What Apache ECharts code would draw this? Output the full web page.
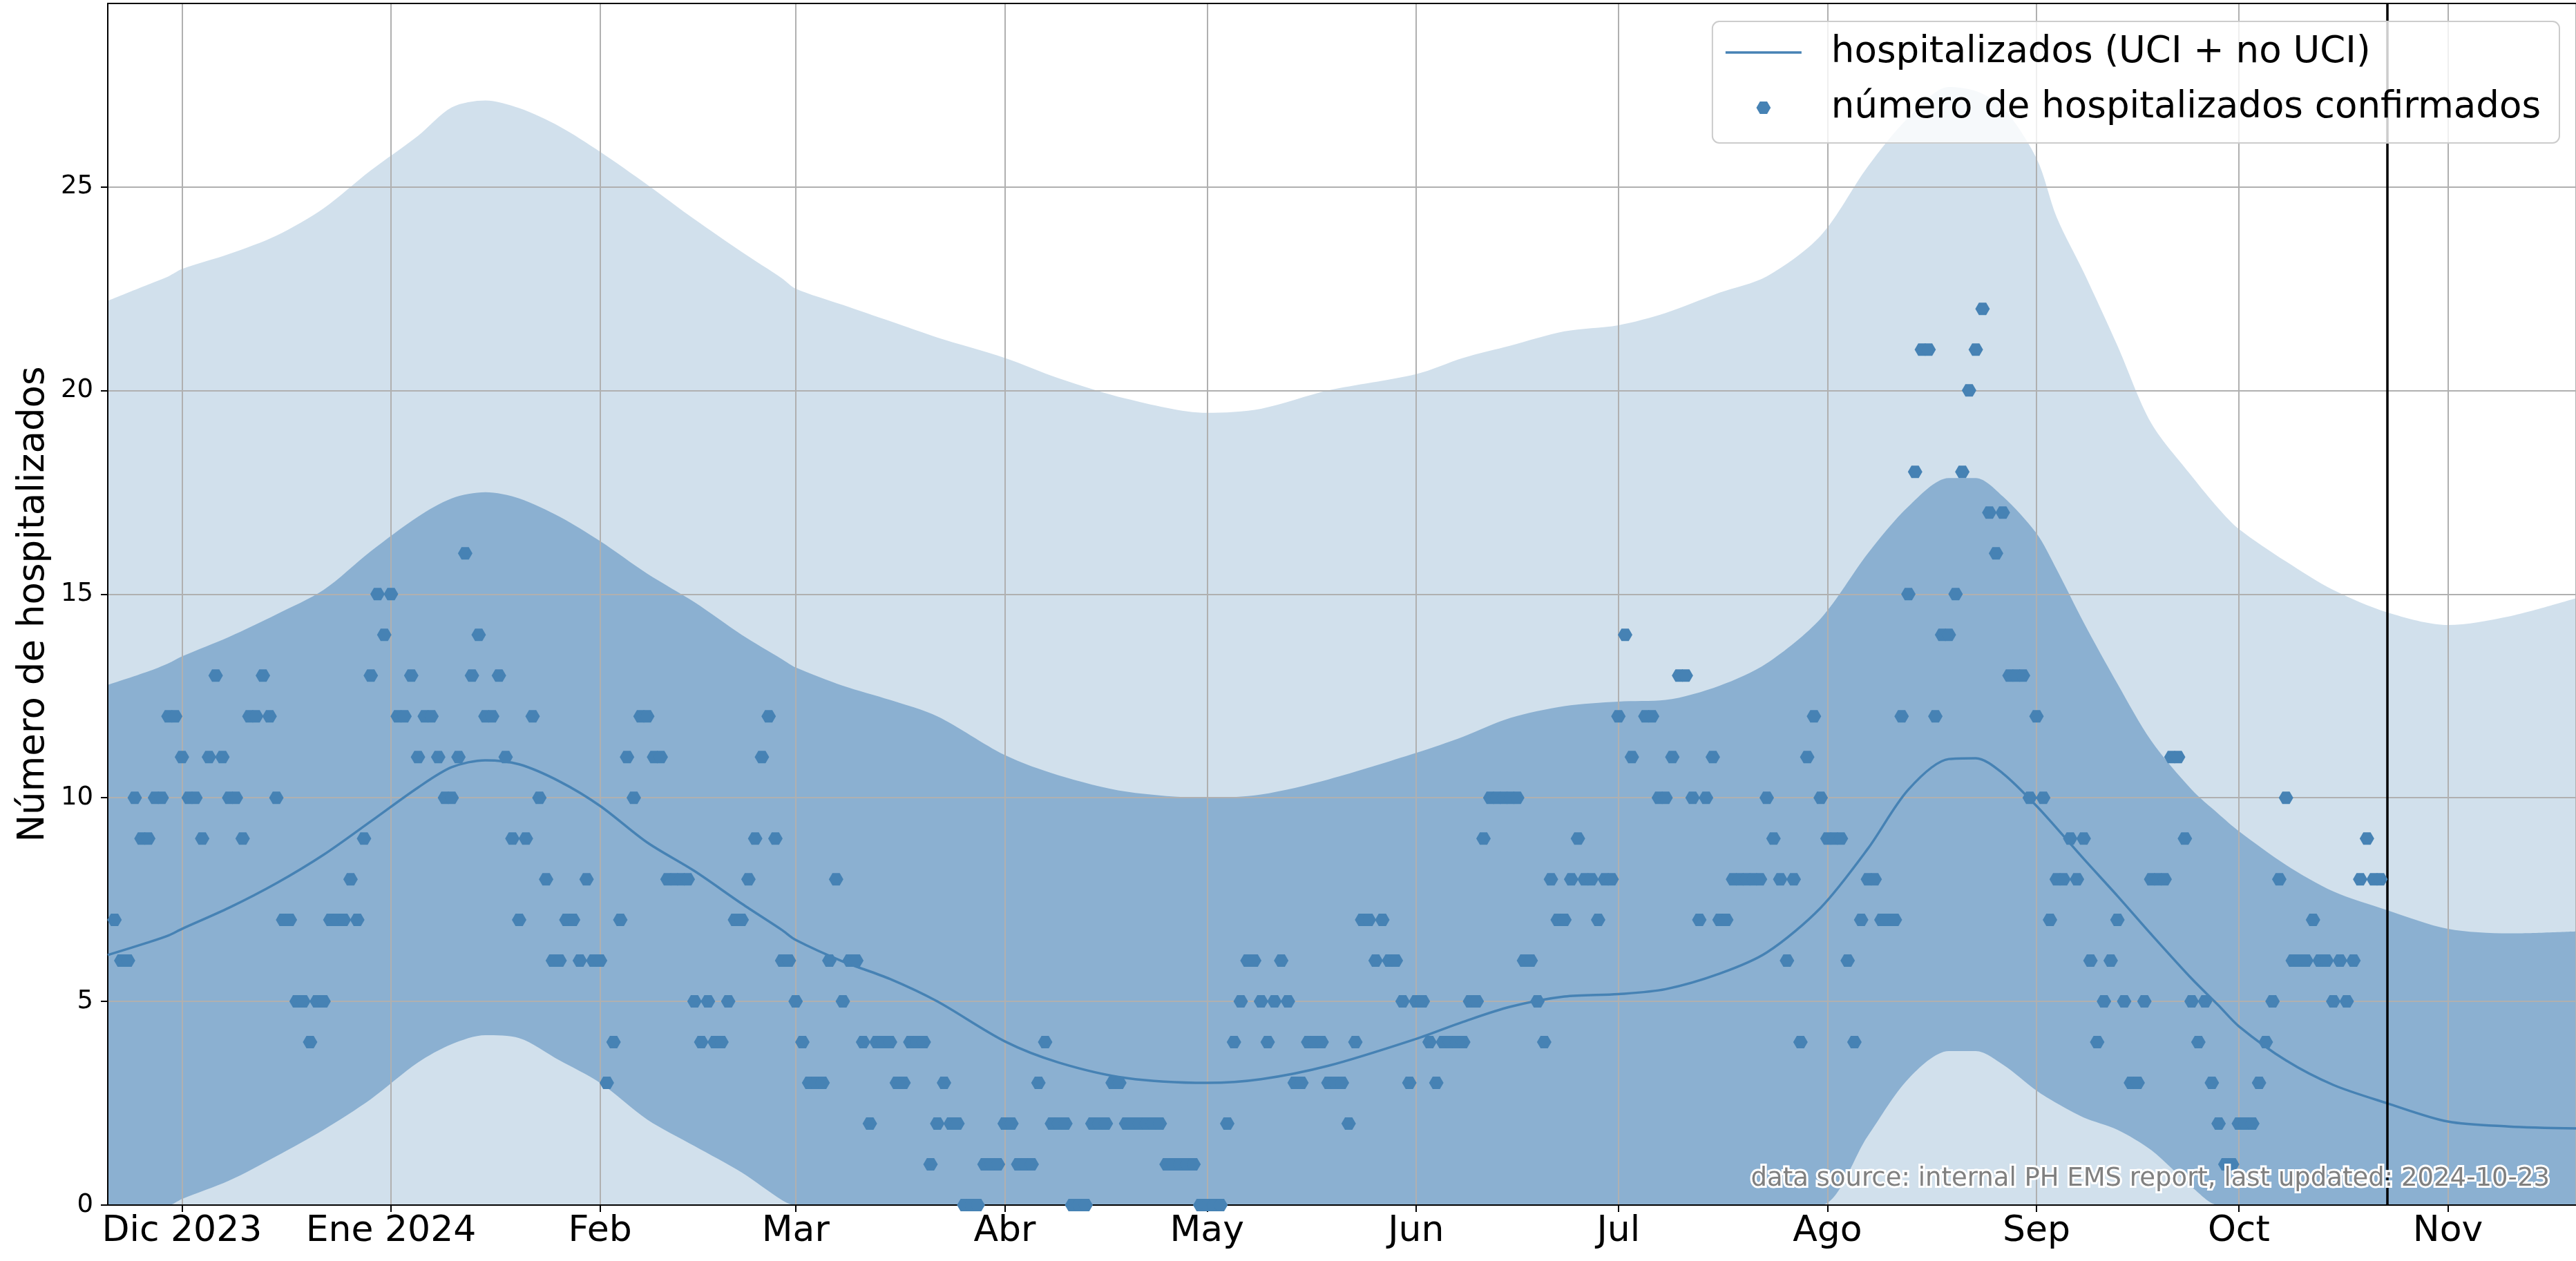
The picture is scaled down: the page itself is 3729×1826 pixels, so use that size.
<!DOCTYPE html>
<html>
<head>
<meta charset="utf-8">
<title>Número de hospitalizados</title>
<script src="https://cdn.jsdelivr.net/npm/echarts@6/dist/echarts.min.js"></script>
<style>
  html, body { margin: 0; padding: 0; background: #ffffff; }
  #chart { width: 3729px; height: 1826px; }
</style>
</head>
<body>
<div id="chart"></div>
<script>
// tick labels for the month ticks, starting at Dec 2023
const monthLabels = ['Dic 2023', 'Ene 2024', 'Feb', 'Mar', 'Abr', 'May', 'Jun', 'Jul', 'Ago', 'Sep', 'Oct', 'Nov', 'Dic'];
const yTicks = [0, 5, 10, 15, 20, 25];

// model bands, sampled along the x axis
const bandDates = [
    '2023-11-20', '2023-11-26', '2023-11-29', '2023-12-01', '2023-12-08', '2023-12-15', '2023-12-22', '2023-12-29',
    '2024-01-05', '2024-01-10', '2024-01-15', '2024-01-20', '2024-01-26', '2024-02-01', '2024-02-08', '2024-02-15',
    '2024-02-22', '2024-02-28', '2024-03-01', '2024-03-08', '2024-03-15', '2024-03-22', '2024-04-01', '2024-04-09',
    '2024-04-19', '2024-05-01', '2024-05-09', '2024-05-19', '2024-06-01', '2024-06-08', '2024-06-15', '2024-06-23',
    '2024-07-01', '2024-07-08', '2024-07-16', '2024-07-23', '2024-07-31', '2024-08-07', '2024-08-13', '2024-08-19',
    '2024-08-23', '2024-08-27', '2024-09-01', '2024-09-04', '2024-09-08', '2024-09-13', '2024-09-18', '2024-09-24',
    '2024-09-28', '2024-10-01', '2024-10-08', '2024-10-15', '2024-10-23', '2024-11-01', '2024-11-10', '2024-11-20'
];
const outerUpper = [
    22.2, 22.6, 22.8, 22.98, 23.35, 23.8, 24.47, 25.4, 26.25, 26.95, 27.12, 26.93, 26.48, 25.86, 25.05, 24.2,
    23.4, 22.75, 22.5, 22.1, 21.7, 21.3, 20.8, 20.3, 19.8, 19.45, 19.55, 20.0, 20.4, 20.8, 21.1, 21.45,
    21.6, 21.9, 22.4, 22.8, 23.8, 25.5, 26.7, 27.45, 27.35, 26.95, 25.7, 24.25, 22.9, 21.1, 19.2, 17.9,
    17.1, 16.6, 15.8, 15.1, 14.55, 14.24, 14.45, 14.9
];
const innerUpper = [
    12.77, 13.1, 13.3, 13.47, 13.95, 14.5, 15.1, 16.05, 16.9, 17.35, 17.5, 17.35, 16.9, 16.3, 15.5, 14.8,
    14.0, 13.4, 13.2, 12.75, 12.4, 12.0, 11.05, 10.55, 10.15, 10.0, 10.08, 10.45, 11.1, 11.5, 11.96, 12.25,
    12.36, 12.4, 12.75, 13.3, 14.4, 16.0, 17.15, 17.85, 17.85, 17.4, 16.49, 15.6, 14.3, 12.8, 11.4, 10.2,
    9.6, 9.18, 8.35, 7.7, 7.24, 6.78, 6.67, 6.72
];
const innerLower = [
    0, 0, 0, 0.15, 0.6, 1.2, 1.85, 2.6, 3.5, 3.95, 4.17, 4.1, 3.55, 3.0, 2.1, 1.45,
    0.8, 0.12, 0, 0, 0, 0, 0, 0, 0, 0, 0, 0, 0, 0, 0, 0,
    0, 0, 0, 0, 0, 1.7, 3.1, 3.78, 3.78, 3.45, 2.81, 2.5, 2.15, 1.85, 1.35, 0.45,
    0, 0, 0, 0, 0, 0, 0, 0
];
const median = [
    6.14, 6.45, 6.62, 6.78, 7.3, 7.9, 8.6, 9.42, 10.25, 10.75, 10.92, 10.82, 10.4, 9.8, 8.9, 8.2,
    7.4, 6.75, 6.51, 5.98, 5.55, 5.0, 4.02, 3.5, 3.12, 3.0, 3.09, 3.42, 4.08, 4.5, 4.87, 5.12,
    5.18, 5.3, 5.68, 6.2, 7.3, 8.75, 10.2, 10.95, 10.97, 10.6, 9.8, 9.25, 8.5, 7.59, 6.65, 5.56,
    4.9, 4.39, 3.55, 2.95, 2.5, 2.05, 1.93, 1.88
];

// daily confirmed counts, one per day from obsStart (null = no report)
const obsStart = '2023-11-21';
const observed = [
    7, 6, 6, 10, 9, 9, 10, 10, 12, 12,
    11, 10, 10, 9, 11, 13, 11, 10, 10, 9, 12, 12, 13, 12, 10, 7, 7, 5, 5, 4, 5, 5, 7, 7, 7, 8, 7, 9, 13, 15, 14,
    15, 12, 12, 13, 11, 12, 12, 11, 10, 10, 11, 16, 13, 14, 12, 12, 13, 11, 9, 7, 9, 12, 10, 8, 6, 6, 7, 7, 6, 8, 6,
    6, 3, 4, 7, 11, 10, 12, 12, 11, 11, 8, 8, 8, 8, 5, 4, 5, 4, 4, 5, 7, 7, 8, 9, 11, 12, 9, 6, 6,
    5, 4, 3, 3, 3, 6, 8, 5, 6, 6, 4, 2, 4, 4, 4, 3, 3, 4, 4, 4, 1, 2, 3, 2, 2, 0, 0, 0, 1, 1, 1,
    2, 2, 1, 1, 1, 3, 4, 2, 2, 2, 0, 0, 0, 2, 2, 2, 3, 3, 2, 2, 2, 2, 2, 2, 1, 1, 1, 1, 1, 0,
    0, 0, 0, 2, 4, 5, 6, 6, 5, 4, 5, 6, 5, 3, 3, 4, 4, 4, 3, 3, 3, 2, 4, 7, 7, 6, 7, 6, 6, 5, 3,
    5, 5, 4, 3, 4, 4, 4, 4, 5, 5, 9, 10, 10, 10, 10, 10, 6, 6, 5, 4, 8, 7, 7, 8, 9, 8, 8, 7, 8, 8,
    12, 14, 11, null, 12, 12, 10, 10, 11, 13, 13, 10, 7, 10, 11, 7, 7, 8, 8, 8, 8, 8, 10, 9, 8, 6, 8, 4, 11, 12, 10,
    9, 9, 9, 6, 4, 7, 8, 8, 7, 7, 7, 12, 15, 18, 21, 21, 12, 14, 14, 15, 18, 20, 21, 22, 17, 16, 17, 13, 13, 13, 10,
    12, 10, 7, 8, 8, 9, 8, 9, 6, 4, 5, 6, 7, 5, 3, 3, 5, 8, 8, 8, 11, 11, 9, 5, 4, 5, 3, 2, 1, 1,
    2, 2, 2, 3, 4, 5, 8, 10, 6, 6, 6, 7, 6, 6, 5, 6, 5, 6, 8, 9, 8, 8
];

const lastUpdated = '2024-10-23';
const xStart = '2023-11-20';
const xEnd = '2024-11-20';

const DAY = 24 * 3600 * 1000;
const FONT = 'DejaVu Sans';
const BLUE = '#4682b4';
const HEX = 'path://M0,0.866L0.5,0L1.5,0L2,0.866L1.5,1.732L0.5,1.732Z';
const LEGEND_LINE = 'path://M0,0L110,0L110,3.5L0,3.5Z';

function toTime(s) {
    const p = s.split('-').map(Number);
    return new Date(p[0], p[1] - 1, p[2]).getTime();
}

function zip(values) {
    return bandDates.map((d, i) => [toTime(d), values[i]]);
}

let start = toTime(obsStart);
let points = [];
observed.forEach((v, i) => {
    if (v === null) return;
    let dt = new Date(start);
    dt.setDate(dt.getDate() + i);
    points.push([dt.getTime(), v]);
});

let bandWidth = innerUpper.map((v, i) => v - innerLower[i]);

let chart = echarts.init(document.getElementById('chart'));

let option = {
    animation: false,
    backgroundColor: '#ffffff',
    textStyle: { fontFamily: FONT },
    grid: {
        left: 156,
        right: 0,
        top: 5,
        bottom: 81,
        containLabel: false,
        outerBoundsMode: 'none'
    },
    legend: {
        data: [
            { name: 'hospitalizados (UCI + no UCI)', icon: LEGEND_LINE },
            { name: 'número de hospitalizados confirmados' }
        ],
        orient: 'vertical',
        right: 24,
        top: 31,
        itemWidth: 110,
        itemHeight: 18,
        itemGap: 18,
        symbolKeepAspect: true,
        padding: [14, 27, 20, 19],
        backgroundColor: 'rgba(255,255,255,0.8)',
        borderColor: '#cccccc',
        borderWidth: 2,
        borderRadius: 10,
        z: 10,
        textStyle: {
            fontFamily: FONT,
            fontSize: 53,
            color: '#000000',
            lineHeight: 62,
            padding: [0, 0, 0, 38]
        }
    },
    xAxis: [
        {
            type: 'time',
            min: toTime(xStart),
            max: toTime(xEnd),
            splitNumber: 12,
            minInterval: 28 * DAY,
            z: 3,
            axisLine: { lineStyle: { color: '#000000', width: 2 } },
            axisTick: { length: 10, lineStyle: { color: '#000000', width: 2 } },
            axisLabel: {
                fontFamily: FONT,
                fontSize: 52,
                color: '#000000',
                margin: 12,
                formatter: function (value) {
                    let dt = new Date(value);
                    if (dt.getDate() !== 1 || dt.getHours() !== 0) return '';
                    let idx = (dt.getFullYear() - 2023) * 12 + dt.getMonth() - 11;
                    return monthLabels[idx] || '';
                }
            },
            splitLine: { show: true, lineStyle: { color: '#b0b0b0', width: 2 } }
        },
        {
            type: 'time',
            position: 'top',
            min: toTime(xStart),
            max: toTime(xEnd),
            z: 3,
            axisLine: { show: true, onZero: false, lineStyle: { color: '#000000', width: 2 } },
            axisTick: { show: false },
            axisLabel: { show: false },
            splitLine: { show: false }
        }
    ],
    yAxis: {
        type: 'value',
        min: 0,
        max: 29.5,
        interval: 5,
        z: 3,
        name: 'Número de hospitalizados',
        nameLocation: 'middle',
        nameGap: 80,
        nameTextStyle: { fontFamily: FONT, fontSize: 53, color: '#000000' },
        axisLine: { show: true, lineStyle: { color: '#000000', width: 2 } },
        axisTick: { show: true, length: 10, lineStyle: { color: '#000000', width: 2 }, customValues: yTicks },
        axisLabel: { fontFamily: FONT, fontSize: 37, color: '#000000', margin: 21, customValues: yTicks },
        splitLine: { show: true, lineStyle: { color: '#b0b0b0', width: 2 } }
    },
    series: [
        {
            name: 'outer',
            type: 'line',
            data: zip(outerUpper),
            symbol: 'none',
            smooth: 0.3,
            silent: true,
            z: 1,
            lineStyle: { width: 0 },
            areaStyle: { color: '#d1e0ec', opacity: 1 }
        },
        {
            name: 'innerBase',
            type: 'line',
            data: zip(innerLower),
            stack: 'inner',
            symbol: 'none',
            smooth: 0.3,
            silent: true,
            z: 1,
            lineStyle: { width: 0 }
        },
        {
            name: 'innerBand',
            type: 'line',
            data: zip(bandWidth),
            stack: 'inner',
            symbol: 'none',
            smooth: 0.3,
            silent: true,
            z: 1,
            lineStyle: { width: 0 },
            areaStyle: { color: '#8bb0d1', opacity: 1 }
        },
        {
            name: 'hospitalizados (UCI + no UCI)',
            type: 'line',
            data: zip(median),
            symbol: 'none',
            smooth: 0.3,
            z: 4,
            color: BLUE,
            lineStyle: { color: BLUE, width: 3.5 }
        },
        {
            name: 'número de hospitalizados confirmados',
            type: 'scatter',
            data: points,
            symbol: HEX,
            symbolSize: [21, 18],
            z: 5,
            itemStyle: { color: BLUE, opacity: 1 },
            markLine: {
                silent: true,
                symbol: 'none',
                label: { show: false },
                lineStyle: { color: '#000000', width: 3.5, type: 'solid' },
                data: [{ xAxis: toTime(lastUpdated) }]
            }
        }
    ],
    graphic: [
        {
            type: 'text',
            x: 3691,
            y: 1707,
            z: 20,
            silent: true,
            style: {
                text: 'data source: internal PH EMS report, last updated: ' + lastUpdated,
                fontFamily: FONT,
                fontSize: 37,
                fill: '#808080',
                stroke: '#ffffff',
                lineWidth: 6,
                align: 'right',
                verticalAlign: 'middle'
            }
        }
    ]
};

chart.setOption(option);
</script>
</body>
</html>
